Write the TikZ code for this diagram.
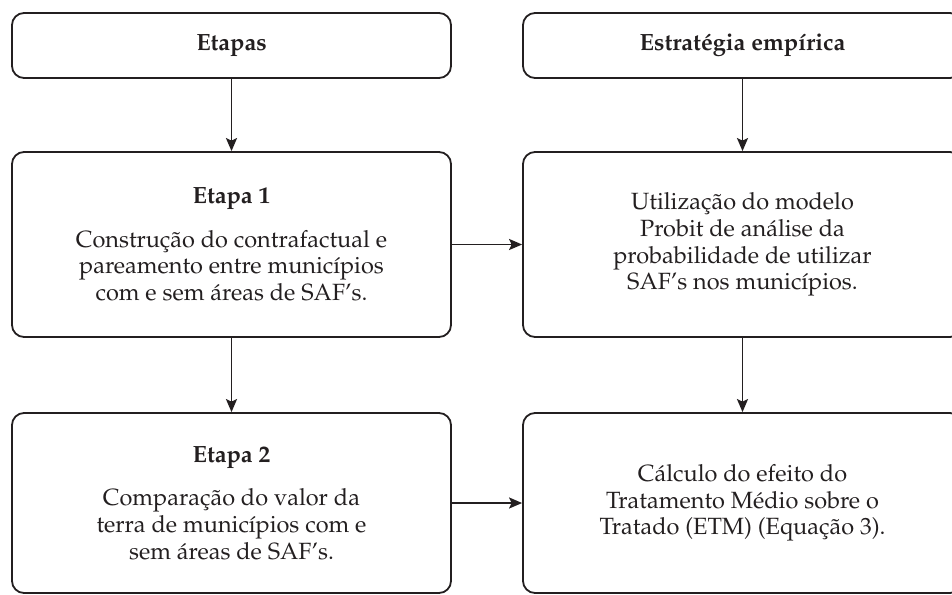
\documentclass[tikz,border=0pt]{standalone}
\usepackage[T1]{fontenc}
\usepackage{mathpazo}
\usetikzlibrary{arrows.meta}
\definecolor{ink}{RGB}{35,31,32}

\begin{document}
\begin{tikzpicture}[x=1pt, y=-1pt,
		box/.style={draw=ink, line width=1.8pt, rounded corners=12pt, inner sep=0pt,
			align=center, text=ink, minimum width=439pt, font=\fontsize{23.5}{26.7}\selectfont},
		arr/.style={draw=ink, line width=1.8pt, -{Stealth[length=13pt, width=11pt, inset=2.5pt]}}]
			%%%%% START %%%%%
			
			\useasboundingbox (0, 0) rectangle (952, 594);
			
			% heads
			\node[box, minimum height=65pt] (etapas) at (231.5, 45.5) {\textbf{Etapas}};
			\node[box, minimum height=65pt] (estrategia) at (742.5, 45.5) {\textbf{Estrat\'egia emp\'{\i}rica}};
			
			% middle row
			\node[box, minimum height=185pt] (etapa1) at (231.5, 244.5)
				{\textbf{Etapa 1}\\[17pt]
				Constru\c{c}\~ao do contrafactual e\\
				pareamento entre munic\'{\i}pios\\
				com e sem \'areas de SAF's.};
			\node[box, minimum height=185pt] (probit) at (742.5, 244.5)
				{Utiliza\c{c}\~ao do modelo\\
				Probit de an\'alise da\\
				probabilidade de utilizar\\
				SAF's nos munic\'{\i}pios.};
			
			% bottom row
			\node[box, minimum height=180pt] (etapa2) at (231.5, 503)
				{\textbf{Etapa 2}\\[17pt]
				Compara\c{c}\~ao do valor da\\
				terra de munic\'{\i}pios com e\\
				sem \'areas de SAF's.};
			\node[box, minimum height=180pt] (calculo) at (742.5, 503)
				{C\'alculo do efeito do\\
				Tratamento M\'edio sobre o\\
				Tratado (ETM) (Equa\c{c}\~ao 3).};
			
			\draw[arr] (etapas) -- (etapa1);
			\draw[arr] (estrategia) -- (probit);
			\draw[arr] (etapa1) -- (etapa2);
			\draw[arr] (probit) -- (calculo);
			\draw[arr] (etapa1) -- (probit);
			\draw[arr] (etapa2) -- (calculo);
			
			%%%%% END %%%%%
		\end{tikzpicture}
\end{document}
